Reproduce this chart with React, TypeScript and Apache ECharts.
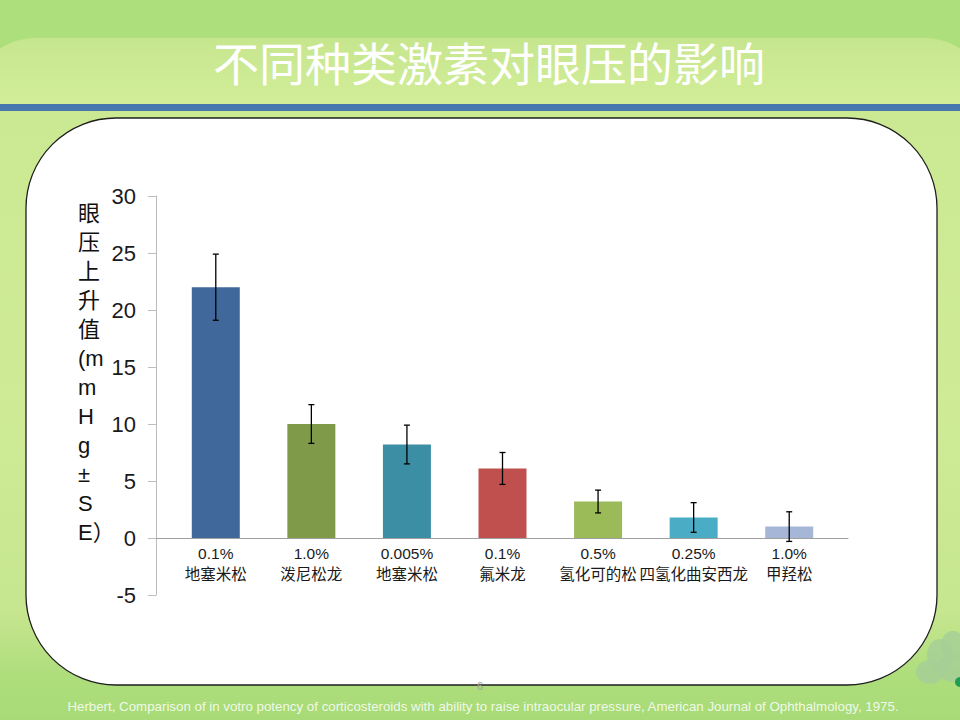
import React, { useEffect, useRef } from "react";
import * as echarts from "echarts";

const titleText = "不同种类激素对眼压的影响";
const yAxisTitle = ["眼", "压", "上", "升", "值", "(m", "m", "H", "g", "±", "S", "E）"];
const footnote =
  "Herbert, Comparison of in votro potency of corticosteroids with ability to raise intraocular pressure, American Journal of Ophthalmology, 1975.";
const pageNumber = "6";

const categories = [
  "0.1%\n地塞米松",
  "1.0%\n泼尼松龙",
  "0.005%\n地塞米松",
  "0.1%\n氟米龙",
  "0.5%\n氢化可的松",
  "0.25%\n四氢化曲安西龙",
  "1.0%\n甲羟松",
];
const values = [22, 10, 8.2, 6.1, 3.2, 1.8, 1.0];
const errors = [2.9, 1.7, 1.7, 1.4, 1.0, 1.3, 1.3];
const barColors = ["#40689A", "#7F9A48", "#3C8EA5", "#C0504D", "#9BBB59", "#4BACC6", "#A5B6D6"];
const yMin = -5;
const yMax = 30;
const yInterval = 5;

const FONT = '"Liberation Sans", Arial, "Noto Sans CJK SC", sans-serif';

export default function App() {
  const ref = useRef<HTMLDivElement>(null);

  useEffect(() => {
    if (!ref.current) return;
    const chart = echarts.init(ref.current, undefined, { renderer: "svg" });

    const barData = values.map((v, i) => ({ value: v, itemStyle: { color: barColors[i] } }));
    const errData = values.map((v, i) => [i, v - errors[i], v + errors[i]]);

    const plantBlobs = [
      { cx: 930, cy: 672, rx: 14, ry: 12 },
      { cx: 940, cy: 655, rx: 13, ry: 16 },
      { cx: 953, cy: 645, rx: 12, ry: 14 },
      { cx: 952, cy: 668, rx: 14, ry: 14 },
    ];

    const option: any = {
      animation: false,
      backgroundColor: "transparent",
      textStyle: { fontFamily: FONT },
      grid: [
        // bars: from value 0 (y=538) to 30 (y=196)
        { left: 168, right: 123, top: 196, bottom: 182 },
        // visible value axis: -5 .. 30
        { left: 156, right: 112, top: 196, bottom: 125 },
      ],
      xAxis: [
        {
          gridIndex: 0,
          type: "category",
          data: categories,
          z: 5,
          axisLine: { show: false },
          axisTick: { show: false },
          splitLine: { show: false },
          axisLabel: {
            color: "#1a1a1a",
            fontSize: 15.5,
            lineHeight: 21,
            margin: 5,
            interval: 0,
            fontFamily: FONT,
          },
        },
        {
          gridIndex: 1,
          type: "value",
          min: 0,
          max: 1,
          z: 5,
          axisLine: { show: true, onZero: true, lineStyle: { color: "#A0A0A0", width: 1 } },
          axisTick: { show: false },
          axisLabel: { show: false },
          splitLine: { show: false },
        },
      ],
      yAxis: [
        {
          gridIndex: 0,
          type: "value",
          min: 0,
          max: yMax,
          interval: yInterval,
          show: false,
          splitLine: { show: false },
        },
        {
          gridIndex: 1,
          type: "value",
          min: yMin,
          max: yMax,
          interval: yInterval,
          z: 5,
          axisLine: { show: true, lineStyle: { color: "#BDBDBD", width: 1 } },
          axisTick: { show: true, length: 8, inside: false, lineStyle: { color: "#BDBDBD" } },
          splitLine: { show: false },
          axisLabel: { color: "#1a1a1a", fontSize: 22, margin: 20, fontFamily: FONT },
        },
      ],
      series: [
        {
          type: "bar",
          xAxisIndex: 0,
          yAxisIndex: 0,
          data: barData,
          barWidth: 48,
          z: 6,
        },
        {
          type: "custom",
          xAxisIndex: 0,
          yAxisIndex: 0,
          z: 7,
          clip: false,
          encode: { x: 0, y: [1, 2] },
          data: errData,
          renderItem: (params: any, api: any) => {
            const x = api.value(0);
            const lo = api.coord([x, api.value(1)]);
            const hi = api.coord([x, api.value(2)]);
            const half = 3;
            const style = { stroke: "#000", lineWidth: 1.3 };
            return {
              type: "group",
              children: [
                { type: "line", shape: { x1: hi[0], y1: hi[1], x2: lo[0], y2: lo[1] }, style },
                { type: "line", shape: { x1: hi[0] - half, y1: hi[1], x2: hi[0] + half, y2: hi[1] }, style },
                { type: "line", shape: { x1: lo[0] - half, y1: lo[1], x2: lo[0] + half, y2: lo[1] }, style },
              ],
            };
          },
        },
      ],
      graphic: [
        {
          type: "rect",
          z: -20,
          shape: { x: 0, y: 0, width: 960, height: 720 },
          style: {
            fill: new echarts.graphic.LinearGradient(0, 0, 0, 1, [
              { offset: 0, color: "#ABDF7A" },
              { offset: 0.16, color: "#CBE992" },
              { offset: 0.55, color: "#CFEB95" },
              { offset: 0.85, color: "#C6E68F" },
              { offset: 0.94, color: "#AEDD7C" },
              { offset: 1, color: "#A8DB77" },
            ]),
          },
        },
        {
          type: "rect",
          z: -19,
          shape: { x: 0, y: 0, width: 960, height: 104 },
          style: { fill: "#ADE07C" },
        },
        {
          type: "rect",
          z: -18,
          shape: { x: -30, y: 38, width: 1020, height: 66, r: [120, 120, 0, 0] },
          style: {
            fill: new echarts.graphic.LinearGradient(0, 0, 0, 1, [
              { offset: 0, color: "#C6E68E" },
              { offset: 1, color: "#D2ED99" },
            ]),
          },
        },
        {
          type: "rect",
          z: -17,
          shape: { x: 0, y: 104, width: 960, height: 7 },
          style: { fill: "#4677AE" },
        },
        ...plantBlobs.map((b) => ({
          type: "ellipse",
          z: -16,
          shape: b,
          style: { fill: "#A6CF96", opacity: 0.85 },
        })),
        {
          type: "circle",
          z: -15,
          shape: { cx: 960, cy: 682, r: 5 },
          style: { fill: "#1E9E52" },
        },
        {
          type: "rect",
          z: -10,
          shape: { x: 26, y: 118, width: 911, height: 567, r: 90 },
          style: { fill: "#FFFFFF", stroke: "#1E1E1E", lineWidth: 1.3 },
        },
        {
          type: "text",
          z: 10,
          style: {
            text: titleText,
            x: 489,
            y: 61,
            align: "center",
            verticalAlign: "middle",
            fill: "#FFFFFF",
            font: '46px "Noto Sans CJK SC", sans-serif',
          },
        },
        {
          type: "text",
          z: 10,
          style: {
            text: yAxisTitle.join("\n"),
            x: 78,
            y: 199,
            align: "left",
            verticalAlign: "top",
            lineHeight: 29,
            fill: "#111111",
            fontSize: 22,
            fontFamily: FONT,
          },
        },
        {
          type: "text",
          z: 10,
          style: {
            text: pageNumber,
            x: 480,
            y: 686,
            align: "center",
            verticalAlign: "middle",
            fill: "#A0A0A0",
            fontSize: 11,
            fontFamily: FONT,
          },
        },
        {
          type: "text",
          z: 10,
          style: {
            text: footnote,
            x: 483,
            y: 706,
            align: "center",
            verticalAlign: "middle",
            fill: "rgba(255,255,255,0.85)",
            fontSize: 13.3,
            fontFamily: FONT,
          },
        },
      ],
    };

    chart.setOption(option);
    return () => chart.dispose();
  }, []);

  return (
    <div
      ref={ref}
      style={{ position: "absolute", left: 0, top: 0, width: 960, height: 720 }}
    />
  );
}
